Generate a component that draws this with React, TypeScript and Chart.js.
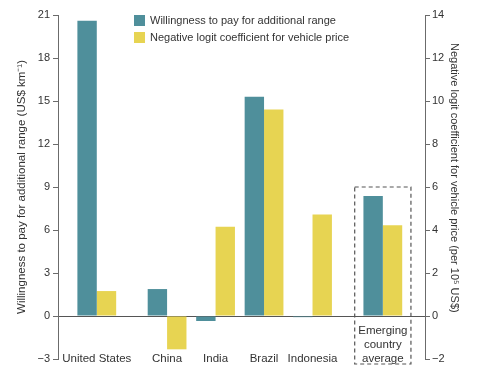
import React, { useEffect, useRef } from 'react';
import { Chart, registerables } from 'chart.js';

Chart.register(...registerables);

// ---- Data ----
const categories: string[][] = [
  ['United States'],
  ['China'],
  ['India'],
  ['Brazil'],
  ['Indonesia'],
  ['Emerging', 'country', 'average'],
];
const willingnessToPay = [20.6, 1.88, -0.35, 15.3, -0.08, 8.37];
const negativeLogitCoefficient = [1.16, -1.55, 4.15, 9.6, 4.72, 4.22];
const seriesNames = [
  'Willingness to pay for additional range',
  'Negative logit coefficient for vehicle price',
];
const leftAxisTitle = 'Willingness to pay for additional range (US$ km\u207B\u00B9)';
const rightAxisTitle = 'Negative logit coefficient for vehicle price (per 10\u2075 US$)';
const leftTickRange = { min: -3, max: 21, step: 3 };
const rightTickRange = { min: -2, max: 14, step: 2 };
const highlightedIndex = 5;
const highlightTop = 9;

// ---- Layout / style ----
const BLUE = '#4f8f9b';
const YELLOW = '#e7d452';
const AXIS = '#6b6b6b';
const TEXT = '#333333';
const FONT_FAMILY = '"Liberation Sans", Arial, Helvetica, sans-serif';
const X_START = 0.8;
const GROUP_GAP = 0.45;
const X_MAX = 7.57;
const xPos = (i: number) => X_START + i + (i >= 1 ? GROUP_GAP : 0) + (i >= 5 ? GROUP_GAP : 0);
const maxLines = Math.max(...categories.map((c) => c.length));
const paddedLabels = categories.map((c) => [...Array(maxLines - c.length).fill(''), ...c]);
const fmt = (v: number) => String(v).replace('-', '\u2212');
const NBSP_PAD = '\u00A0'.repeat(6);

const dashedBoxPlugin = {
  id: 'dashedBox',
  afterDatasetsDraw(chart: any) {
    const { ctx, scales, chartArea } = chart;
    const cx = xPos(highlightedIndex);
    const l = scales.x.getPixelForValue(cx - 0.58);
    const r = scales.x.getPixelForValue(cx + 0.58);
    const t = scales.y.getPixelForValue(highlightTop);
    const b = chartArea.bottom + 5;
    ctx.save();
    ctx.setLineDash([4, 3]);
    ctx.strokeStyle = '#555';
    ctx.lineWidth = 1.2;
    ctx.strokeRect(l, t, r - l, b - t);
    ctx.restore();
  },
};

export default function App() {
  const canvasRef = useRef<HTMLCanvasElement | null>(null);

  useEffect(() => {
    if (!canvasRef.current) return;
    const font = { family: FONT_FAMILY, size: 11 };
    const labelFont = { family: FONT_FAMILY, size: 11.5, lineHeight: '14px' };
    const titleFont = { family: FONT_FAMILY, size: 11.5 };
    const chart = new Chart(canvasRef.current, {
      type: 'bar',
      data: {
        datasets: [
          {
            label: seriesNames[0],
            data: willingnessToPay.map((v, i) => ({ x: xPos(i), y: v })),
            backgroundColor: BLUE,
            yAxisID: 'y',
            categoryPercentage: 0.8,
            barPercentage: 1,
          },
          {
            label: seriesNames[1],
            data: negativeLogitCoefficient.map((v, i) => ({ x: xPos(i), y: v })),
            backgroundColor: YELLOW,
            yAxisID: 'y2',
            categoryPercentage: 0.8,
            barPercentage: 1,
          },
        ],
      },
      options: {
        animation: false,
        responsive: false,
        maintainAspectRatio: false,
        layout: { padding: { top: 15, bottom: 0, left: 0, right: 0 } },
        plugins: {
          legend: { display: false },
          tooltip: { enabled: false },
        },
        scales: {
          x: {
            type: 'linear',
            min: 0,
            max: X_MAX,
            offset: false,
            grid: { display: false, offset: false },
            border: { display: false },
            afterBuildTicks: (s: any) => {
              s.ticks = categories.map((_, i) => ({ value: xPos(i) }));
            },
            afterFit: (s: any) => {
              s.height = 13;
            },
            ticks: {
              autoSkip: false,
              maxRotation: 0,
              minRotation: 0,
              mirror: true,
              padding: 21,
              color: TEXT,
              font: labelFont,
              callback: (_v: any, i: number) => paddedLabels[i],
            },
          },
          y: {
            type: 'linear',
            position: 'left',
            min: leftTickRange.min,
            max: leftTickRange.max,
            afterFit: (s: any) => {
              s.width = 58;
            },
            ticks: {
              stepSize: leftTickRange.step,
              padding: 3,
              color: TEXT,
              font,
              callback: (v: any) => fmt(v),
            },
            grid: {
              drawOnChartArea: true,
              color: (c: any) => (c.tick && c.tick.value === 0 ? '#555' : 'rgba(0,0,0,0)'),
              tickColor: AXIS,
              tickLength: 5,
              lineWidth: 1,
            },
            border: { color: AXIS, width: 1 },
            title: {
              display: true,
              text: leftAxisTitle,
              color: TEXT,
              font: titleFont,
              padding: { top: 15, bottom: 0 },
            },
          },
          y2: {
            type: 'linear',
            position: 'right',
            min: rightTickRange.min,
            max: rightTickRange.max,
            afterFit: (s: any) => {
              s.width = 59;
            },
            ticks: {
              stepSize: rightTickRange.step,
              padding: 2,
              color: TEXT,
              font,
              callback: (v: any) => fmt(v),
            },
            grid: {
              drawOnChartArea: false,
              tickColor: AXIS,
              tickLength: 5,
            },
            border: { color: AXIS, width: 1 },
            title: {
              display: true,
              text: rightAxisTitle + NBSP_PAD,
              color: TEXT,
              font: { family: FONT_FAMILY, size: 11 },
              padding: { top: 23, bottom: 0 },
            },
          },
        },
      },
      plugins: [dashedBoxPlugin],
    } as any);
    return () => chart.destroy();
  }, []);

  const legendItem = (name: string, color: string) => (
    <div style={{ display: 'flex', alignItems: 'center', height: 17 }}>
      <span style={{ display: 'inline-block', width: 11, height: 11, background: color, marginRight: 5 }} />
      <span>{name}</span>
    </div>
  );

  return (
    <div style={{ position: 'fixed', left: 0, top: 0, width: 484, height: 372, background: '#fff' }}>
      <canvas ref={canvasRef} width={484} height={372} style={{ display: 'block', width: 484, height: 372 }} />
      <div
        style={{
          position: 'absolute',
          left: 134,
          top: 12,
          fontFamily: FONT_FAMILY,
          fontSize: 11,
          color: TEXT,
          lineHeight: '17px',
          whiteSpace: 'nowrap',
        }}
      >
        {legendItem(seriesNames[0], BLUE)}
        {legendItem(seriesNames[1], YELLOW)}
      </div>
    </div>
  );
}
